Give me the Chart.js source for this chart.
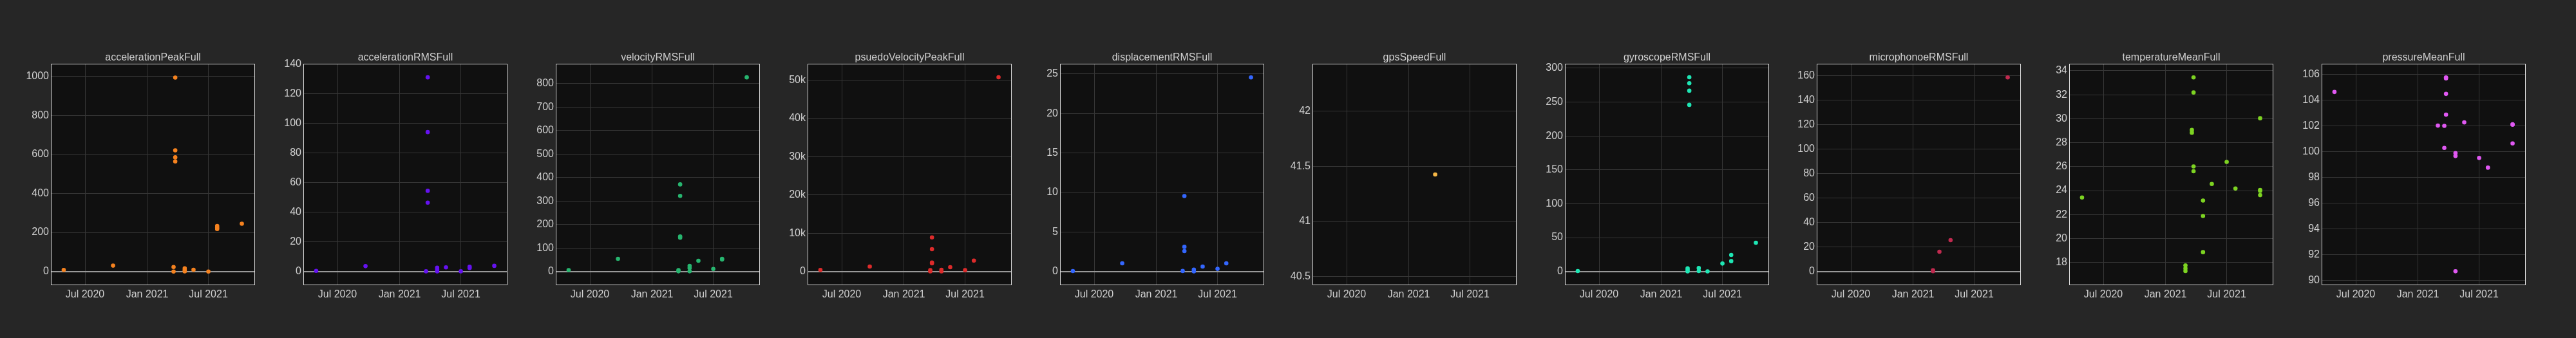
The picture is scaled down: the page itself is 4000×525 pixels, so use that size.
<!DOCTYPE html>
<html>
<head>
<meta charset="utf-8">
<script src="https://cdn.jsdelivr.net/npm/chart.js@4.4.0/dist/chart.umd.min.js"></script>
<style>
  html, body { margin: 0; padding: 0; background: #262626; }
  #wrap { position: relative; width: 4000px; height: 525px; overflow: hidden; }
  #wrap canvas { position: absolute; top: 0; }
</style>
</head>
<body>
<div id="wrap"></div>
<script>
// shared time axis
const xRange = ['2020-03-22', '2021-11-16'];
const xTickDates = ['2020-07-01', '2021-01-01', '2021-07-01'];
const xTickLabels = ['Jul 2020', 'Jan 2021', 'Jul 2021'];

// accelerationPeakFull
const accelerationPeakDates = ['2020-04-29', '2020-09-22', '2021-03-20', '2021-03-20', '2021-03-25', '2021-03-25', '2021-03-25', '2021-03-25', '2021-04-22', '2021-04-22', '2021-04-22', '2021-05-18', '2021-07-01', '2021-07-27', '2021-07-27', '2021-07-27', '2021-10-08'];
const accelerationPeakValues = [8, 30, 23, 0, 994, 621, 585, 564, 16, 8, 1, 9, 0, 233, 225, 218, 245];
const accelerationPeakTicks = [0, 200, 400, 600, 800, 1000];
const accelerationPeakRange = [-70.3, 1064.8];

// accelerationRMSFull
const accelerationRMSDates = ['2020-04-29', '2020-09-22', '2021-03-20', '2021-03-25', '2021-03-25', '2021-03-25', '2021-03-25', '2021-04-22', '2021-04-22', '2021-04-22', '2021-05-18', '2021-07-01', '2021-07-27', '2021-07-27', '2021-10-08'];
const accelerationRMSValues = [0.4, 3.6, 0.1, 131.2, 94.2, 54.5, 46.5, 2.5, 1.3, 0.1, 2.8, 0.1, 3.2, 2.3, 3.8];
const accelerationRMSTicks = [0, 20, 40, 60, 80, 100, 120, 140];
const accelerationRMSRange = [-9.3, 140.4];

// velocityRMSFull
const velocityRMSDates = ['2020-04-29', '2020-09-22', '2021-03-20', '2021-03-20', '2021-03-25', '2021-03-25', '2021-03-25', '2021-03-25', '2021-04-22', '2021-04-22', '2021-04-22', '2021-05-18', '2021-07-01', '2021-07-27', '2021-07-27', '2021-10-08'];
const velocityRMSValues = [6, 54, 6, 1, 371, 322, 149, 144, 24, 15, 1, 46, 11, 54, 51, 827];
const velocityRMSTicks = [0, 100, 200, 300, 400, 500, 600, 700, 800];
const velocityRMSRange = [-58.4, 885];

// psuedoVelocityPeakFull
const pseudoVelocityDates = ['2020-04-29', '2020-09-22', '2021-03-20', '2021-03-20', '2021-03-25', '2021-03-25', '2021-03-25', '2021-03-25', '2021-04-22', '2021-04-22', '2021-05-18', '2021-07-01', '2021-07-27', '2021-10-08'];
const pseudoVelocityValues = [390, 1290, 340, 30, 8910, 5830, 2350, 2130, 450, 50, 1120, 340, 2860, 50790];
const pseudoVelocityTicks = [0, 10000, 20000, 30000, 40000, 50000];
const pseudoVelocityTickLabels = ['0', '10k', '20k', '30k', '40k', '50k'];
const pseudoVelocityRange = [-3587, 54316];

// displacementRMSFull
const displacementRMSDates = ['2020-04-29', '2020-09-22', '2021-03-20', '2021-03-25', '2021-03-25', '2021-03-25', '2021-04-22', '2021-04-22', '2021-05-18', '2021-07-01', '2021-07-27', '2021-10-08'];
const displacementRMSValues = [0.05, 1.03, 0.06, 9.55, 3.12, 2.58, 0.24, 0.02, 0.62, 0.33, 1.03, 24.57];
const displacementRMSTicks = [0, 5, 10, 15, 20, 25];
const displacementRMSRange = [-1.74, 26.3];

// gpsSpeedFull
const gpsSpeedDates = ['2021-03-20'];
const gpsSpeedValues = [41.425];
const gpsSpeedTicks = [40.5, 41, 41.5, 42];
const gpsSpeedRange = [40.424, 42.426];

// gyroscopeRMSFull
const gyroscopeRMSDates = ['2020-04-29', '2021-03-20', '2021-03-20', '2021-03-20', '2021-03-25', '2021-03-25', '2021-03-25', '2021-03-25', '2021-04-22', '2021-04-22', '2021-05-18', '2021-07-01', '2021-07-27', '2021-07-27', '2021-10-08'];
const gyroscopeRMSValues = [0.6, 4.7, 2.5, 0.2, 286.7, 277.8, 266.8, 245.9, 5.0, 0.6, 0.1, 11.7, 24.4, 15.2, 42.4];
const gyroscopeRMSTicks = [0, 50, 100, 150, 200, 250, 300];
const gyroscopeRMSRange = [-20.3, 306.6];

// microphonoeRMSFull
const microphoneRMSDates = ['2021-03-01', '2021-03-01', '2021-03-20', '2021-04-22', '2021-10-08'];
const microphoneRMSValues = [1.0, 0.2, 16.1, 25.6, 158.4];
const microphoneRMSTicks = [0, 20, 40, 60, 80, 100, 120, 140, 160];
const microphoneRMSRange = [-11.2, 169.6];

// temperatureMeanFull
const temperatureMeanDates = ['2020-04-29', '2021-03-01', '2021-03-01', '2021-03-01', '2021-03-20', '2021-03-20', '2021-03-25', '2021-03-25', '2021-03-25', '2021-03-25', '2021-04-22', '2021-04-22', '2021-04-22', '2021-05-18', '2021-07-01', '2021-07-27', '2021-10-08', '2021-10-08', '2021-10-08', '2021-10-08'];
const temperatureMeanValues = [23.42, 17.75, 17.5, 17.28, 29.06, 28.83, 33.45, 32.19, 26.02, 25.61, 23.17, 21.88, 18.86, 24.55, 26.39, 24.17, 30.04, 24.05, 23.98, 23.62];
const temperatureMeanTicks = [18, 20, 22, 24, 26, 28, 30, 32, 34];
const temperatureMeanRange = [16.1, 34.59];

// pressureMeanFull
const pressureMeanDates = ['2020-04-29', '2021-03-01', '2021-03-20', '2021-03-20', '2021-03-25', '2021-03-25', '2021-03-25', '2021-03-25', '2021-04-22', '2021-04-22', '2021-04-22', '2021-05-18', '2021-07-01', '2021-07-27', '2021-10-08', '2021-10-08', '2021-10-08'];
const pressureMeanValues = [104.62, 102.01, 101.99, 100.28, 105.75, 105.68, 104.47, 102.86, 99.88, 99.65, 90.71, 102.26, 99.50, 98.75, 102.11, 102.08, 100.63];
const pressureMeanTicks = [90, 92, 94, 96, 98, 100, 102, 104, 106];
const pressureMeanRange = [89.63, 106.81];

const panels = [
    { title: 'accelerationPeakFull', dates: accelerationPeakDates, values: accelerationPeakValues, ticks: accelerationPeakTicks, range: accelerationPeakRange, color: '#f5821f' },
    { title: 'accelerationRMSFull', dates: accelerationRMSDates, values: accelerationRMSValues, ticks: accelerationRMSTicks, range: accelerationRMSRange, color: '#6512f0' },
    { title: 'velocityRMSFull', dates: velocityRMSDates, values: velocityRMSValues, ticks: velocityRMSTicks, range: velocityRMSRange, color: '#27b56f' },
    { title: 'psuedoVelocityPeakFull', dates: pseudoVelocityDates, values: pseudoVelocityValues, ticks: pseudoVelocityTicks, labels: pseudoVelocityTickLabels, range: pseudoVelocityRange, color: '#dd2b2b' },
    { title: 'displacementRMSFull', dates: displacementRMSDates, values: displacementRMSValues, ticks: displacementRMSTicks, range: displacementRMSRange, color: '#3467ff' },
    { title: 'gpsSpeedFull', dates: gpsSpeedDates, values: gpsSpeedValues, ticks: gpsSpeedTicks, range: gpsSpeedRange, color: '#f6b746' },
    { title: 'gyroscopeRMSFull', dates: gyroscopeRMSDates, values: gyroscopeRMSValues, ticks: gyroscopeRMSTicks, range: gyroscopeRMSRange, color: '#1ee6b4' },
    { title: 'microphonoeRMSFull', dates: microphoneRMSDates, values: microphoneRMSValues, ticks: microphoneRMSTicks, range: microphoneRMSRange, color: '#c02a4f' },
    { title: 'temperatureMeanFull', dates: temperatureMeanDates, values: temperatureMeanValues, ticks: temperatureMeanTicks, range: temperatureMeanRange, color: '#7dd322' },
    { title: 'pressureMeanFull', dates: pressureMeanDates, values: pressureMeanValues, ticks: pressureMeanTicks, range: pressureMeanRange, color: '#e058f2' }
];

const TEXT = '#cfcfcf';
const FONT = { family: '"Liberation Sans", Arial, sans-serif', size: 16 };
const AXIS_W = 75;   // room left of each plot for y labels
const PLOT_W = 317;
const CANVAS_W = AXIS_W + PLOT_W + 5;

// dark plot background + light frame round the plot area
const plotFrame = {
    id: 'plotFrame',
    beforeDraw(chart) {
        const { ctx, chartArea: a } = chart;
        ctx.save();
        ctx.fillStyle = '#101010';
        ctx.fillRect(a.left, a.top, a.width, a.height);
        ctx.restore();
    },
    beforeDatasetsDraw(chart) {
        const { ctx, chartArea: a } = chart;
        ctx.save();
        ctx.strokeStyle = '#d8d8d8';
        ctx.lineWidth = 1;
        ctx.strokeRect(Math.round(a.left) + 0.5, Math.round(a.top) + 0.5, Math.round(a.width) - 1, Math.round(a.height) - 1);
        ctx.restore();
    }
};

const wrap = document.getElementById('wrap');

panels.forEach((p, i) => {
    const canvas = document.createElement('canvas');
    canvas.width = CANVAS_W;
    canvas.height = 525;
    canvas.style.left = Math.round(79.3 + i * 391.7 - AXIS_W) + 'px';
    wrap.appendChild(canvas);

    new Chart(canvas, {
        type: 'scatter',
        data: {
            datasets: [{
                data: p.dates.map((d, k) => ({ x: Date.parse(d), y: p.values[k] })),
                backgroundColor: p.color,
                borderWidth: 0,
                pointRadius: 3.3,
                pointHoverRadius: 3.3
            }]
        },
        options: {
            responsive: false,
            animation: false,
            layout: { padding: { left: 0, right: 5, top: 0, bottom: 0 } },
            plugins: {
                legend: { display: false },
                tooltip: { enabled: false },
                title: {
                    display: true,
                    text: p.title,
                    color: TEXT,
                    fullSize: false,
                    font: { ...FONT, weight: 'normal', lineHeight: 1 },
                    padding: { top: 82, bottom: 1 }
                }
            },
            scales: {
                x: {
                    type: 'linear',
                    min: Date.parse(xRange[0]),
                    max: Date.parse(xRange[1]),
                    afterBuildTicks: s => { s.ticks = xTickDates.map(d => ({ value: Date.parse(d) })); },
                    afterFit: s => { s.height = 82; },
                    border: { display: false },
                    grid: { color: '#363636', lineWidth: 1, drawTicks: false },
                    ticks: {
                        color: TEXT,
                        font: FONT,
                        padding: 5,
                        maxRotation: 0,
                        autoSkip: false,
                        callback: (v, k) => xTickLabels[k]
                    }
                },
                y: {
                    min: p.range[0],
                    max: p.range[1],
                    afterBuildTicks: s => { s.ticks = p.ticks.map(v => ({ value: v })); },
                    afterFit: s => { s.width = AXIS_W; },
                    border: { display: false },
                    grid: {
                        drawTicks: false,
                        color: c => (c.tick && c.tick.value === 0 ? '#999999' : '#363636'),
                        lineWidth: c => (c.tick && c.tick.value === 0 ? 2 : 1)
                    },
                    ticks: {
                        color: TEXT,
                        font: FONT,
                        padding: 3,
                        autoSkip: false,
                        callback: (v, k) => (p.labels ? p.labels[k] : String(p.ticks[k]))
                    }
                }
            }
        },
        plugins: [plotFrame]
    });
});
</script>
</body>
</html>
